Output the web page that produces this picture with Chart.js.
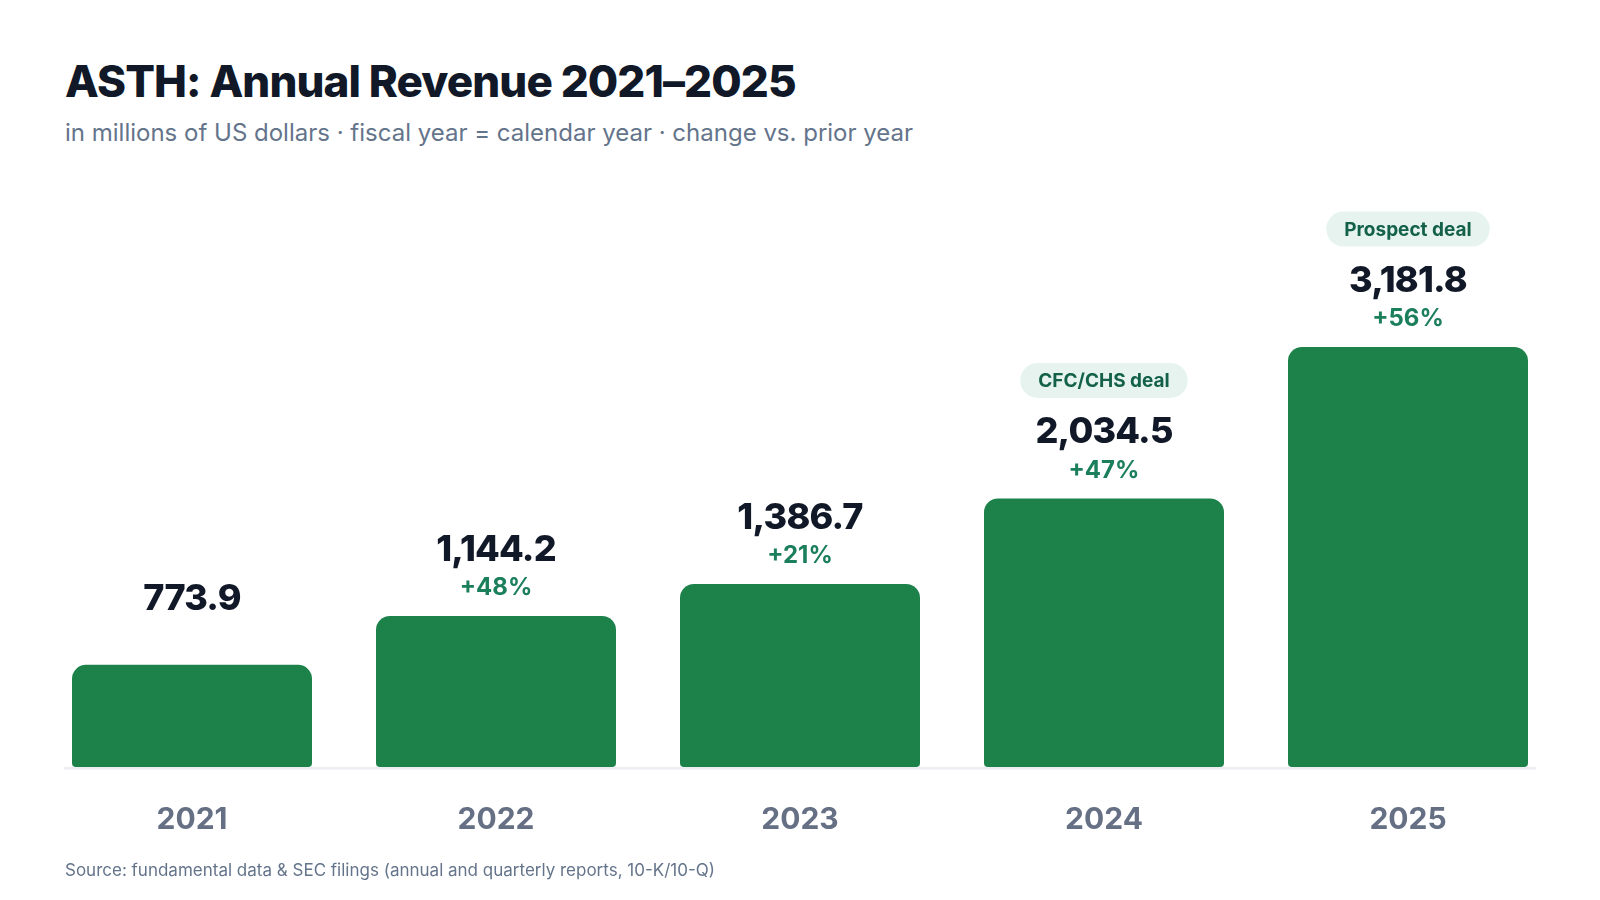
<!DOCTYPE html>
<html>
<head>
<meta charset="utf-8">
<script src="https://cdn.jsdelivr.net/npm/chart.js@4.4.1/dist/chart.umd.min.js"></script>
<style>
  html, body { margin: 0; padding: 0; background: #ffffff; }
  body { width: 1600px; height: 900px; position: relative; overflow: hidden; font-family: Inter, "Noto Sans", sans-serif; }
  #chart { position: absolute; left: 0; top: 0; }
  .txt { position: absolute; left: 65px; white-space: nowrap; }
  #title { top: 59px; font-size: 44px; line-height: 44px; font-weight: 800; color: #111827; letter-spacing: -0.9px; }
  #subtitle { top: 121px; font-size: 24px; line-height: 24px; color: #64748b; }
  #source { top: 862px; font-size: 17px; line-height: 17px; color: #64748b; }
</style>
</head>
<body>
<div id="title" class="txt">ASTH: Annual Revenue 2021–2025</div>
<div id="subtitle" class="txt">in millions of US dollars · fiscal year = calendar year · change vs. prior year</div>
<canvas id="chart" width="1600" height="900"></canvas>
<div id="source" class="txt">Source: fundamental data &amp; SEC filings (annual and quarterly reports, 10-K/10-Q)</div>

<script>
// ================= DATA =================
const years = ["2021", "2022", "2023", "2024", "2025"];
const revenue = [773.9, 1144.2, 1386.7, 2034.5, 3181.8];
const valueLabels = ["773.9", "1,144.2", "1,386.7", "2,034.5", "3,181.8"];
const changeLabels = [null, "+48%", "+21%", "+47%", "+56%"];
const dealLabels = [null, null, null, "CFC/CHS deal", "Prospect deal"];

// ================= STYLE =================
const barColor = "#1d824a";
const valueColor = "#111827";
const changeColor = "#1b7f5c";
const pillBg = "#e6f3ee";
const pillText = "#14614a";

// baseline strip under the bars
const axisLinePlugin = {
  id: "axisLine",
  beforeDatasetsDraw(chart) {
    const ctx = chart.ctx;
    const y = chart.scales.y.getPixelForValue(0);
    ctx.save();
    ctx.strokeStyle = "#eceef1";
    ctx.lineWidth = 2.5;
    ctx.beginPath();
    ctx.moveTo(64, y + 1.3);
    ctx.lineTo(1536, y + 1.3);
    ctx.stroke();
    ctx.restore();
  }
};

function roundRect(ctx, x, y, w, h, r) {
  ctx.beginPath();
  ctx.moveTo(x + r, y);
  ctx.arcTo(x + w, y, x + w, y + h, r);
  ctx.arcTo(x + w, y + h, x, y + h, r);
  ctx.arcTo(x, y + h, x, y, r);
  ctx.arcTo(x, y, x + w, y, r);
  ctx.closePath();
}

// value, change and deal labels above each bar
const barLabelsPlugin = {
  id: "barLabels",
  afterDatasetsDraw(chart) {
    const ctx = chart.ctx;
    const meta = chart.getDatasetMeta(0);
    ctx.save();
    ctx.textAlign = "center";
    ctx.textBaseline = "middle";
    meta.data.forEach((bar, i) => {
      const x = bar.x;
      const top = bar.y;

      ctx.fillStyle = valueColor;
      ctx.font = "800 36px Inter";
      ctx.letterSpacing = "-0.8px";
      ctx.fillText(valueLabels[i], x, top - 66);
      ctx.letterSpacing = "0px";

      if (changeLabels[i]) {
        ctx.fillStyle = changeColor;
        ctx.font = "700 24px Inter";
        ctx.fillText(changeLabels[i], x, top - 28);
      }

      if (dealLabels[i]) {
        ctx.font = "700 19px Inter";
        const w = ctx.measureText(dealLabels[i]).width + 36;
        const h = 35;
        const cy = top - 118;
        ctx.fillStyle = pillBg;
        roundRect(ctx, x - w / 2, cy - h / 2, w, h, h / 2);
        ctx.fill();
        ctx.fillStyle = pillText;
        ctx.fillText(dealLabels[i], x, cy + 1);
      }
    });
    ctx.restore();
  }
};

new Chart(document.getElementById("chart"), {
  type: "bar",
  data: {
    labels: years,
    datasets: [{
      label: "Revenue",
      data: revenue,
      backgroundColor: barColor,
      borderRadius: { topLeft: 14, topRight: 14, bottomLeft: 4, bottomRight: 4 },
      borderSkipped: false,
      categoryPercentage: 1,
      barPercentage: 240 / 304
    }]
  },
  options: {
    responsive: false,
    animation: false,
    devicePixelRatio: 1,
    layout: { padding: { top: 239, bottom: 0, left: 40, right: 40 } },
    plugins: {
      legend: { display: false },
      tooltip: { enabled: false }
    },
    scales: {
      x: {
        grid: { display: false, drawTicks: false },
        border: { display: false },
        ticks: {
          color: "#667085",
          font: { family: "Inter", size: 30, weight: "700" },
          padding: 35
        },
        afterFit(scale) { scale.height = 133; }
      },
      y: {
        display: false,
        min: 0,
        max: 4000
      }
    }
  },
  plugins: [axisLinePlugin, barLabelsPlugin]
});
</script>
</body>
</html>
